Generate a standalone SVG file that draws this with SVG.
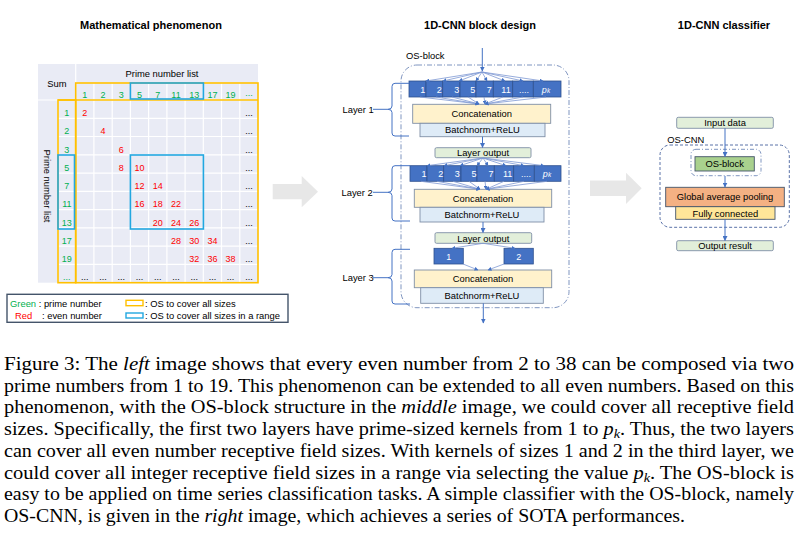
<svg xmlns="http://www.w3.org/2000/svg" width="807" height="536" viewBox="0 0 807 536">
<defs>
<marker id="ah" markerWidth="5" markerHeight="5" refX="4.5" refY="2.5" orient="auto" markerUnits="userSpaceOnUse"><path d="M0,0 L5,2.5 L0,5 z" fill="#4472c4"/></marker>
<marker id="ahs" markerWidth="4" markerHeight="4" refX="3.5" refY="2" orient="auto" markerUnits="userSpaceOnUse"><path d="M0,0 L4,2 L0,4 z" fill="#4472c4"/></marker>
<style>
.t{font-family:"Liberation Sans",Arial,sans-serif;font-size:9.4px;fill:#000}
.ttl{font-family:"Liberation Sans",Arial,sans-serif;font-size:11px;font-weight:bold;fill:#000}
.n{font-family:"Liberation Sans",Arial,sans-serif;font-size:9px;text-anchor:middle}
.g{fill:#00b050}
.r{fill:#ff0000}
.k{fill:#000}
.kw{font-family:"Liberation Sans",Arial,sans-serif;font-size:9px;fill:#fff;text-anchor:middle}
.c{text-anchor:middle}
.kb{fill:#4472c4;stroke:#2f528f;stroke-width:0.8}
.conc{fill:#fff2cc;stroke:#7f8fa6;stroke-width:0.9}
.bn{fill:#deebf7;stroke:#7f8fa6;stroke-width:0.9}
.lo{fill:#e2efda;stroke:#7f8fa6;stroke-width:0.9}
.fan{stroke:#7d98d3;stroke-width:0.8;fill:none;marker-end:url(#ahs)}
.ar{stroke:#4472c4;stroke-width:1;fill:none;marker-end:url(#ah)}
.br{stroke:#4472c4;stroke-width:1;fill:none}
.cap{font-family:"Liberation Serif","Times New Roman",serif;font-size:18.6px;fill:#000}
.it{font-style:italic}
.grid{stroke:#fff;stroke-width:1.2}
.orng{fill:none;stroke:#ffc000;stroke-width:1.6}
.blu{fill:none;stroke:#22a7e0;stroke-width:1.6}
</style>
</defs>
<rect width="807" height="536" fill="#fff"/>

<!-- Titles -->
<text class="ttl c" x="151" y="29">Mathematical phenomenon</text>
<text class="ttl c" x="480" y="29">1D-CNN block design</text>
<text class="ttl c" x="724" y="29">1D-CNN classifier</text>

<!-- Left table -->
<g id="table">
<rect x="38" y="64" width="220" height="218.7" fill="#e9ebf5"/>
<g class="grid">
<line x1="75.7" y1="64" x2="75.7" y2="282.7"/>
<line x1="58" y1="100" x2="58" y2="282.7"/>
<line x1="75.7" y1="83" x2="258" y2="83"/>
<line x1="38" y1="100" x2="258" y2="100"/>
<line x1="93.9" y1="83" x2="93.9" y2="282.7"/>
<line x1="112.2" y1="83" x2="112.2" y2="282.7"/>
<line x1="130.4" y1="83" x2="130.4" y2="282.7"/>
<line x1="148.6" y1="83" x2="148.6" y2="282.7"/>
<line x1="166.9" y1="83" x2="166.9" y2="282.7"/>
<line x1="185.1" y1="83" x2="185.1" y2="282.7"/>
<line x1="203.3" y1="83" x2="203.3" y2="282.7"/>
<line x1="221.5" y1="83" x2="221.5" y2="282.7"/>
<line x1="239.8" y1="83" x2="239.8" y2="282.7"/>
<line x1="58" y1="118.3" x2="258" y2="118.3"/>
<line x1="58" y1="136.5" x2="258" y2="136.5"/>
<line x1="58" y1="154.8" x2="258" y2="154.8"/>
<line x1="58" y1="173.1" x2="258" y2="173.1"/>
<line x1="58" y1="191.4" x2="258" y2="191.4"/>
<line x1="58" y1="209.6" x2="258" y2="209.6"/>
<line x1="58" y1="227.9" x2="258" y2="227.9"/>
<line x1="58" y1="246.2" x2="258" y2="246.2"/>
<line x1="58" y1="264.4" x2="258" y2="264.4"/>
</g>
<text class="t c" x="57" y="86.5">Sum</text>
<text class="t c" x="162" y="76.5">Prime number list</text>
<text class="t c" transform="translate(47,186) rotate(90)" dominant-baseline="central">Prime number list</text>
<!-- column headers -->
<g class="n g">
<text x="84.8" y="98">1</text><text x="103" y="98">2</text><text x="121.3" y="98">3</text><text x="139.5" y="98">5</text><text x="157.7" y="98">7</text><text x="176" y="98">11</text><text x="194.2" y="98">13</text><text x="212.4" y="98">17</text><text x="230.6" y="98">19</text><text x="248.9" y="96">...</text>
</g>
<!-- row headers -->
<g class="n g">
<text x="66.8" y="116">1</text><text x="66.8" y="134.3">2</text><text x="66.8" y="152.5">3</text><text x="66.8" y="170.8">5</text><text x="66.8" y="189.1">7</text><text x="66.8" y="207.4">11</text><text x="66.8" y="225.6">13</text><text x="66.8" y="243.9">17</text><text x="66.8" y="262.2">19</text><text x="66.8" y="280.4">...</text>
</g>
<!-- sums -->
<g class="n r">
<text x="84.8" y="116">2</text>
<text x="103" y="134.3">4</text>
<text x="121.3" y="152.5">6</text>
<text x="121.3" y="170.8">8</text><text x="139.5" y="170.8">10</text>
<text x="139.5" y="189.1">12</text><text x="157.7" y="189.1">14</text>
<text x="139.5" y="207.4">16</text><text x="157.7" y="207.4">18</text><text x="176" y="207.4">22</text>
<text x="157.7" y="225.6">20</text><text x="176" y="225.6">24</text><text x="194.2" y="225.6">26</text>
<text x="176" y="243.9">28</text><text x="194.2" y="243.9">30</text><text x="212.4" y="243.9">34</text>
<text x="194.2" y="262.2">32</text><text x="212.4" y="262.2">36</text><text x="230.6" y="262.2">38</text>
</g>
<g class="n k">
<text x="248.9" y="116">...</text><text x="248.9" y="134.3">...</text><text x="248.9" y="152.5">...</text><text x="248.9" y="170.8">...</text><text x="248.9" y="189.1">...</text><text x="248.9" y="207.4">...</text><text x="248.9" y="225.6">...</text><text x="248.9" y="243.9">...</text><text x="248.9" y="262.2">...</text>
<text x="84.8" y="280.4">...</text><text x="103" y="280.4">...</text><text x="121.3" y="280.4">...</text><text x="139.5" y="280.4">...</text><text x="157.7" y="280.4">...</text><text x="176" y="280.4">...</text><text x="194.2" y="280.4">...</text><text x="212.4" y="280.4">...</text><text x="230.6" y="280.4">...</text><text x="248.9" y="280.4">...</text>
</g>
<!-- OS boxes -->
<rect class="orng" x="75.7" y="83" width="182.3" height="199.7"/>
<rect class="orng" x="58" y="100" width="17.7" height="182.7"/>
<line x1="58" y1="100" x2="258" y2="100" stroke="#ffc000" stroke-width="1.6"/>
<rect class="blu" x="130.4" y="83" width="73" height="16"/>
<rect class="blu" x="130.4" y="155" width="73" height="74"/>
<rect class="blu" x="58" y="155" width="16.5" height="74"/>
</g>

<!-- Legend -->
<g id="legend">
<rect x="7" y="294.3" width="281" height="28" fill="#fff" stroke="#44546a" stroke-width="1.4"/>
<text class="t" x="10" y="306.5"><tspan fill="#00b050">Green</tspan> : prime number</text>
<text class="t" x="15" y="319"><tspan fill="#ff0000">Red</tspan></text>
<text class="t" x="42" y="319">: even number</text>
<rect x="126" y="300.3" width="17" height="5.4" fill="#fff" stroke="#ffc000" stroke-width="1.4"/>
<text class="t" x="145" y="306.5">: OS to cover all sizes</text>
<rect x="126" y="313" width="17" height="5" fill="#fff" stroke="#22a7e0" stroke-width="1.4"/>
<text class="t" x="145" y="319">: OS to cover all sizes in a range</text>
</g>

<!-- Gray arrows -->
<g id="arrow-left"><path d="M272.7,184 H301.7 V176 L318,191.7 L301.7,207.3 V199.3 H272.7 Z" fill="#e7e7e7"/></g>
<g id="arrow-right"><path d="M590,180.5 H626 V172.7 L641.7,188.3 L626,204 V196 H590 Z" fill="#e7e7e7"/></g>

<!-- Middle: OS-block design -->
<g id="os-block-frame">
<text class="t" x="406" y="58.5">OS-block</text>
<rect x="401" y="65" width="168" height="242.7" rx="16" fill="none" stroke="#7f95c0" stroke-width="1" stroke-dasharray="5 2 1 2"/>
</g>

<g id="layer1">
<g id="l1-kernels">
<rect class="kb" x="409" y="81" width="17" height="16"/>
<rect class="kb" x="426" y="81" width="16.7" height="16"/>
<rect class="kb" x="442.7" y="81" width="17.3" height="16"/>
<rect class="kb" x="460" y="81" width="16" height="16"/>
<rect class="kb" x="476" y="81" width="17.3" height="16"/>
<rect class="kb" x="493.3" y="81" width="19.4" height="16"/>
<rect class="kb" x="512.7" y="81" width="20.6" height="16"/>
<rect class="kb" x="533.3" y="81" width="27.7" height="16"/>
<text class="kw" x="422.7" y="92.5">1</text><text class="kw" x="439.3" y="92.5">2</text><text class="kw" x="456.7" y="92.5">3</text><text class="kw" x="472.7" y="92.5">5</text><text class="kw" x="489.3" y="92.5">7</text><text class="kw" x="506" y="92.5">11</text><text class="kw" x="524" y="92.5">....</text>
<text class="kw" x="546" y="92.5"><tspan font-style="italic">p</tspan><tspan font-size="6.5" font-style="italic">k</tspan></text>
</g>
<g id="l1-concat"><rect class="conc" x="412.7" y="104.3" width="138" height="19"/><text class="t c" x="481.7" y="117.3">Concatenation</text></g>
<g id="l1-bn"><rect class="bn" x="420" y="123.3" width="125" height="13.4"/><text class="t c" x="482.5" y="133.4">Batchnorm+ReLU</text></g>
<g id="l1-label"><text class="t" x="342.5" y="112.5">Layer 1</text></g>
</g>
<g id="layer-output-1"><rect class="lo" x="435" y="147.7" width="96" height="10" rx="1.5"/><text class="t c" x="483" y="156.2">Layer output</text></g>

<g id="layer2">
<g id="l2-kernels">
<rect class="kb" x="410" y="165.7" width="17" height="15.6"/>
<rect class="kb" x="427" y="165.7" width="16.7" height="15.6"/>
<rect class="kb" x="443.7" y="165.7" width="17.3" height="15.6"/>
<rect class="kb" x="461" y="165.7" width="16" height="15.6"/>
<rect class="kb" x="477" y="165.7" width="17.3" height="15.6"/>
<rect class="kb" x="494.3" y="165.7" width="19.4" height="15.6"/>
<rect class="kb" x="513.7" y="165.7" width="20.6" height="15.6"/>
<rect class="kb" x="534.3" y="165.7" width="26.7" height="15.6"/>
<text class="kw" x="424" y="177">1</text><text class="kw" x="440.7" y="177">2</text><text class="kw" x="457.3" y="177">3</text><text class="kw" x="474" y="177">5</text><text class="kw" x="491" y="177">7</text><text class="kw" x="507.7" y="177">11</text><text class="kw" x="526" y="177">....</text>
<text class="kw" x="547" y="177"><tspan font-style="italic">p</tspan><tspan font-size="6.5" font-style="italic">k</tspan></text>
</g>
<g id="l2-concat"><rect class="conc" x="414.3" y="189.3" width="137.4" height="18"/><text class="t c" x="483" y="201.6">Concatenation</text></g>
<g id="l2-bn"><rect class="bn" x="420" y="207.3" width="124" height="14.7"/><text class="t c" x="482" y="218">Batchnorm+ReLU</text></g>
<g id="l2-label"><text class="t" x="341.5" y="195.5">Layer 2</text></g>
</g>
<g id="layer-output-2"><rect class="lo" x="435" y="232.7" width="96.7" height="10.6" rx="1.5"/><text class="t c" x="483.3" y="241.5">Layer output</text></g>

<g id="layer3">
<g id="l3-k1"><rect class="kb" x="434" y="248.3" width="29.3" height="15.7"/><text class="kw" x="448.7" y="259.5">1</text></g>
<g id="l3-k2"><rect class="kb" x="504" y="248.3" width="29.3" height="15.7"/><text class="kw" x="518.7" y="259.5">2</text></g>
<g id="l3-concat"><rect class="conc" x="414.3" y="270" width="137.4" height="17.7"/><text class="t c" x="483" y="282">Concatenation</text></g>
<g id="l3-bn"><rect class="bn" x="420.7" y="287.7" width="122.6" height="15.6"/><text class="t c" x="482" y="299">Batchnorm+ReLU</text></g>
<g id="l3-label"><text class="t" x="342.5" y="281">Layer 3</text></g>
</g>

<!-- Right: classifier -->
<g id="input-data"><rect class="lo" x="676.7" y="117.3" width="96.6" height="11" rx="1.5" stroke="#44546a"/><text class="t c" x="725" y="126.2">Input data</text></g>
<g id="os-cnn-frame">
<text class="t" x="667.3" y="142.5">OS-CNN</text>
<rect x="660" y="145" width="129.3" height="82.3" rx="10" fill="none" stroke="#5a72a8" stroke-width="1" stroke-dasharray="3 2"/>
</g>
<g id="os-block-node">
<rect x="691" y="149.3" width="70" height="26.4" rx="5" fill="none" stroke="#7f95c0" stroke-width="1" stroke-dasharray="4 2 1 2"/>
<rect x="695" y="156.7" width="59.3" height="14.3" fill="#a9d18e" stroke="#44546a" stroke-width="0.9"/>
<text class="t c" x="724.7" y="167.3">OS-block</text>
</g>
<g id="gap"><rect x="665.7" y="187.3" width="118.6" height="19.4" fill="#f4b183" stroke="#44546a" stroke-width="0.9"/><text class="t c" x="725" y="200">Global average pooling</text></g>
<g id="fc"><rect x="675.7" y="206.7" width="99.3" height="12.6" fill="#ffe699" stroke="#44546a" stroke-width="0.9"/><text class="t c" x="725.3" y="216.5">Fully connected</text></g>
<g id="output-result"><rect class="lo" x="676.7" y="240.7" width="96.6" height="10" rx="1.5" stroke="#44546a"/><text class="t c" x="725" y="249.3">Output result</text></g>

<!-- Connectors -->
<g id="connectors">
<line class="ar" x1="482.3" y1="48" x2="482.3" y2="71"/>
<line class="fan" x1="482" y1="72" x2="426" y2="81"/>
<line class="fan" x1="482" y1="72" x2="443" y2="81"/>
<line class="fan" x1="482" y1="72" x2="459" y2="81"/>
<line class="fan" x1="482" y1="72" x2="476" y2="81"/>
<line class="fan" x1="482" y1="72" x2="487" y2="81"/>
<line class="fan" x1="482" y1="72" x2="505" y2="81"/>
<line class="fan" x1="482" y1="72" x2="523" y2="81"/>
<line class="fan" x1="482" y1="72" x2="543" y2="81"/>
<line class="fan" x1="420" y1="97" x2="479" y2="104"/>
<line class="fan" x1="436" y1="97" x2="479" y2="104"/>
<line class="fan" x1="452" y1="97" x2="479" y2="104"/>
<line class="fan" x1="468" y1="97" x2="479" y2="104"/>
<line class="fan" x1="484" y1="97" x2="485" y2="104"/>
<line class="fan" x1="503" y1="97" x2="485" y2="104"/>
<line class="fan" x1="523" y1="97" x2="485" y2="104"/>
<line class="fan" x1="546" y1="97" x2="485" y2="104"/>
<line class="ar" x1="482.5" y1="136.7" x2="482.5" y2="147.5"/>
<line class="fan" x1="483" y1="158" x2="427" y2="165.7"/>
<line class="fan" x1="483" y1="158" x2="444" y2="165.7"/>
<line class="fan" x1="483" y1="158" x2="460" y2="165.7"/>
<line class="fan" x1="483" y1="158" x2="477" y2="165.7"/>
<line class="fan" x1="483" y1="158" x2="488" y2="165.7"/>
<line class="fan" x1="483" y1="158" x2="506" y2="165.7"/>
<line class="fan" x1="483" y1="158" x2="524" y2="165.7"/>
<line class="fan" x1="483" y1="158" x2="544" y2="165.7"/>
<line class="fan" x1="421" y1="181.3" x2="480" y2="189.3"/>
<line class="fan" x1="437" y1="181.3" x2="480" y2="189.3"/>
<line class="fan" x1="453" y1="181.3" x2="480" y2="189.3"/>
<line class="fan" x1="469" y1="181.3" x2="480" y2="189.3"/>
<line class="fan" x1="485" y1="181.3" x2="486" y2="189.3"/>
<line class="fan" x1="504" y1="181.3" x2="486" y2="189.3"/>
<line class="fan" x1="524" y1="181.3" x2="486" y2="189.3"/>
<line class="fan" x1="547" y1="181.3" x2="486" y2="189.3"/>
<line class="ar" x1="483" y1="222" x2="483" y2="232.5"/>
<line class="fan" x1="483" y1="243.3" x2="452" y2="248.3"/>
<line class="fan" x1="483" y1="243.3" x2="515" y2="248.3"/>
<line class="fan" x1="463" y1="264" x2="478" y2="270"/>
<line class="fan" x1="504" y1="264" x2="488" y2="270"/>
<line class="ar" x1="483.3" y1="303.3" x2="483.3" y2="323"/>
<!-- brackets -->
<path class="br" d="M409,83.3 H395 Q392,83.3 392,86.5 V106 Q392,109.3 388,109.3 Q392,109.3 392,112.5 V133 Q392,136 395,136 H409"/>
<line class="br" x1="373" y1="109.3" x2="388" y2="109.3"/>
<path class="br" d="M410,165.7 H395 Q392,165.7 392,169 V189 Q392,192.3 388,192.3 Q392,192.3 392,195.6 V218 Q392,221 395,221 H410"/>
<line class="br" x1="373" y1="192.3" x2="388" y2="192.3"/>
<path class="br" d="M410,249.3 H395 Q392,249.3 392,252.5 V274.5 Q392,277.7 388,277.7 Q392,277.7 392,281 V301 Q392,304 395,304 H410"/>
<line class="br" x1="373" y1="277.7" x2="388" y2="277.7"/>
<!-- classifier -->
<line class="ar" x1="725" y1="128.3" x2="725" y2="156.5"/>
<line class="ar" x1="725" y1="176" x2="725" y2="187.1"/>
<line class="ar" x1="725" y1="219.3" x2="725" y2="240.5"/>
</g>

<!-- Caption -->
<g id="caption" class="cap">
<text x="4" y="370" textLength="790" lengthAdjust="spacingAndGlyphs">Figure 3: The <tspan class="it">left</tspan> image shows that every even number from 2 to 38 can be composed via two</text>
<text x="4" y="391.7" textLength="790" lengthAdjust="spacingAndGlyphs">prime numbers from 1 to 19. This phenomenon can be extended to all even numbers. Based on this</text>
<text x="4" y="413.4" textLength="790" lengthAdjust="spacingAndGlyphs">phenomenon, with the OS-block structure in the <tspan class="it">middle</tspan> image, we could cover all receptive field</text>
<text x="4" y="435.1" textLength="790" lengthAdjust="spacingAndGlyphs">sizes. Specifically, the first two layers have prime-sized kernels from 1 to <tspan class="it">p</tspan><tspan class="it" font-size="13" dy="3">k</tspan><tspan dy="-3">. Thus, the two layers</tspan></text>
<text x="4" y="456.8" textLength="790" lengthAdjust="spacingAndGlyphs">can cover all even number receptive field sizes. With kernels of sizes 1 and 2 in the third layer, we</text>
<text x="4" y="478.5" textLength="790" lengthAdjust="spacingAndGlyphs">could cover all integer receptive field sizes in a range via selecting the value <tspan class="it">p</tspan><tspan class="it" font-size="13" dy="3">k</tspan><tspan dy="-3">. The OS-block is</tspan></text>
<text x="4" y="500.2" textLength="790" lengthAdjust="spacingAndGlyphs">easy to be applied on time series classification tasks. A simple classifier with the OS-block, namely</text>
<text x="4" y="521.9" textLength="681" lengthAdjust="spacingAndGlyphs">OS-CNN, is given in the <tspan class="it">right</tspan> image, which achieves a series of SOTA performances.</text>
</g>
</svg>
